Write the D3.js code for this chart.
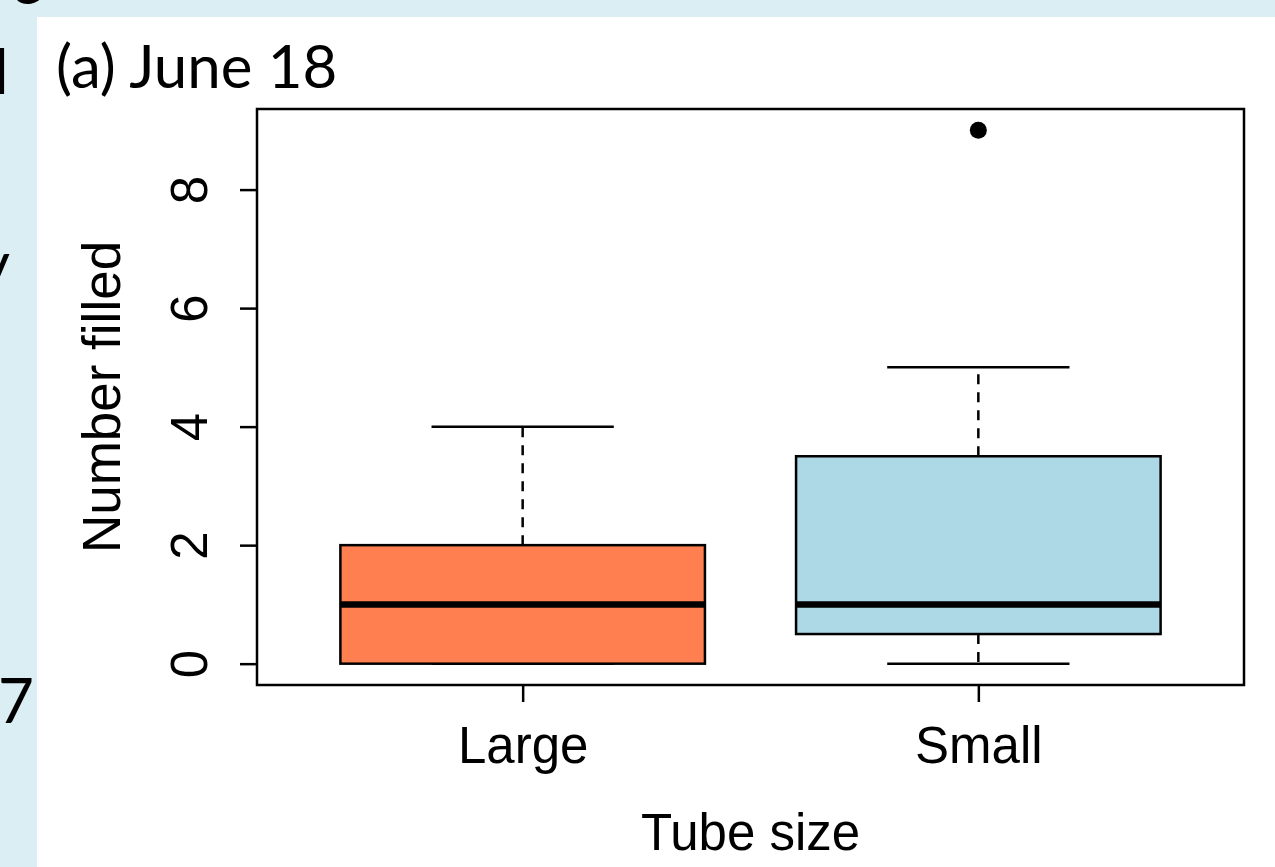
<!DOCTYPE html>
<html>
<head>
<meta charset="utf-8">
<script src="https://cdn.jsdelivr.net/npm/d3@7"></script>
<style>
  body { margin: 0; background: #fff; }
  svg { display: block; }
</style>
</head>
<body>
<div id="chart"></div>
<script>
// Data
var groups = ["Large", "Small"]
var fills = ["#ff7f50", "#add8e6"]     // R "coral" and "lightblue"
var q1 = [0, 0.5]
var medians = [1, 1]
var q3 = [2, 3.5]
var whiskLow = [0, 0]
var whiskHigh = [4, 5]
var outliers = [[], [9]]
var yTicks = [0, 2, 4, 6, 8]

var width = 1275, height = 867
var box = {left: 257, top: 109, right: 1244, bottom: 685}
var lw = 2.5

var svg = d3.select("#chart").append("svg")
    .attr("width", width)
    .attr("height", height)

// slide background strips (left + top), with cut-off text from the slide
svg.append("rect").attr("x", 0).attr("y", 0).attr("width", width).attr("height", height).attr("fill", "#dbeef4")
svg.append("rect").attr("x", 37).attr("y", 17).attr("width", width - 37).attr("height", height - 17).attr("fill", "#fff")

var clip = svg.append("clipPath").attr("id", "strip")
clip.append("rect").attr("x", 0).attr("y", 0).attr("width", 37).attr("height", height)
clip.append("rect").attr("x", 0).attr("y", 0).attr("width", width).attr("height", 17)

var frag = svg.append("g").attr("clip-path", "url(#strip)")
    .style("font-family", "Lato, 'Open Sans', sans-serif")
    .style("font-size", "62px")
    .attr("fill", "#000")
frag.append("text").attr("x", 10).attr("y", 4).text("e")
frag.append("text").attr("x", -6).attr("y", 94).text("l")
frag.append("text").attr("x", -22).attr("y", 286).text("y")
frag.append("text").attr("x", -2).attr("y", 723).text("7")

// title
svg.append("text")
    .attr("x", 56).attr("y", 88)
    .style("font-family", "Lato, 'Open Sans', sans-serif")
    .style("font-size", "60px")
    .text("(a) June 18")

// scales
var x = d3.scaleLinear().domain([0.417, 2.583]).range([box.left, box.right])
var y = d3.scaleLinear().domain([-0.36, 9.36]).range([box.bottom, box.top])
var boxW = 0.8, capW = 0.4

var g = svg.append("g")

groups.forEach(function(name, i) {
  var c = i + 1
  // whiskers
  g.append("line")
      .attr("x1", x(c)).attr("x2", x(c))
      .attr("y1", y(q3[i])).attr("y2", y(whiskHigh[i]))
      .attr("stroke", "#000").attr("stroke-width", lw).attr("stroke-dasharray", "10,8")
  g.append("line")
      .attr("x1", x(c)).attr("x2", x(c))
      .attr("y1", y(q1[i])).attr("y2", y(whiskLow[i]))
      .attr("stroke", "#000").attr("stroke-width", lw).attr("stroke-dasharray", "10,8")
  // caps
  ;[whiskLow[i], whiskHigh[i]].forEach(function(v) {
    g.append("line")
        .attr("x1", x(c - capW / 2)).attr("x2", x(c + capW / 2))
        .attr("y1", y(v)).attr("y2", y(v))
        .attr("stroke", "#000").attr("stroke-width", lw)
  })
  // box
  g.append("rect")
      .attr("x", x(c - boxW / 2))
      .attr("y", y(q3[i]))
      .attr("width", x(c + boxW / 2) - x(c - boxW / 2))
      .attr("height", y(q1[i]) - y(q3[i]))
      .attr("fill", fills[i])
      .attr("stroke", "#000").attr("stroke-width", lw)
  // median
  g.append("line")
      .attr("x1", x(c - boxW / 2)).attr("x2", x(c + boxW / 2))
      .attr("y1", y(medians[i])).attr("y2", y(medians[i]))
      .attr("stroke", "#000").attr("stroke-width", 6.5)
  // outliers
  outliers[i].forEach(function(v) {
    g.append("circle").attr("cx", x(c)).attr("cy", y(v)).attr("r", 8.5).attr("fill", "#000")
  })
})

// plot frame
svg.append("rect")
    .attr("x", box.left).attr("y", box.top)
    .attr("width", box.right - box.left).attr("height", box.bottom - box.top)
    .attr("fill", "none").attr("stroke", "#000").attr("stroke-width", lw)

var font = "'Liberation Sans', Arial, sans-serif"

// y axis
var yAxis = svg.append("g")
    .attr("transform", "translate(" + box.left + ",0)")
    .call(d3.axisLeft(y).tickValues(yTicks).tickSize(17).tickFormat(d3.format("d")))
yAxis.select(".domain").remove()
yAxis.selectAll(".tick line").attr("stroke-width", lw)
yAxis.selectAll(".tick text")
    .style("font-family", font).style("font-size", "51px")
    .attr("x", null).attr("dy", null)
    .attr("text-anchor", "middle")
    .attr("transform", "translate(-50,0) rotate(-90)")

// x axis
var xAxis = svg.append("g")
    .attr("transform", "translate(0," + box.bottom + ")")
    .call(d3.axisBottom(x).tickValues([1, 2]).tickSize(17).tickFormat(function(d) { return groups[d - 1] }))
xAxis.select(".domain").remove()
xAxis.selectAll(".tick line").attr("stroke-width", lw)
xAxis.selectAll(".tick text")
    .style("font-family", font).style("font-size", "51px")
    .attr("dy", null).attr("y", 78)

// axis titles
svg.append("text")
    .attr("x", (box.left + box.right) / 2).attr("y", 850)
    .attr("text-anchor", "middle")
    .style("font-family", font).style("font-size", "51px")
    .text("Tube size")

svg.append("text")
    .attr("transform", "translate(120," + ((box.top + box.bottom) / 2) + ") rotate(-90)")
    .attr("text-anchor", "middle")
    .style("font-family", font).style("font-size", "53px")
    .text("Number filled")
</script>
</body>
</html>
